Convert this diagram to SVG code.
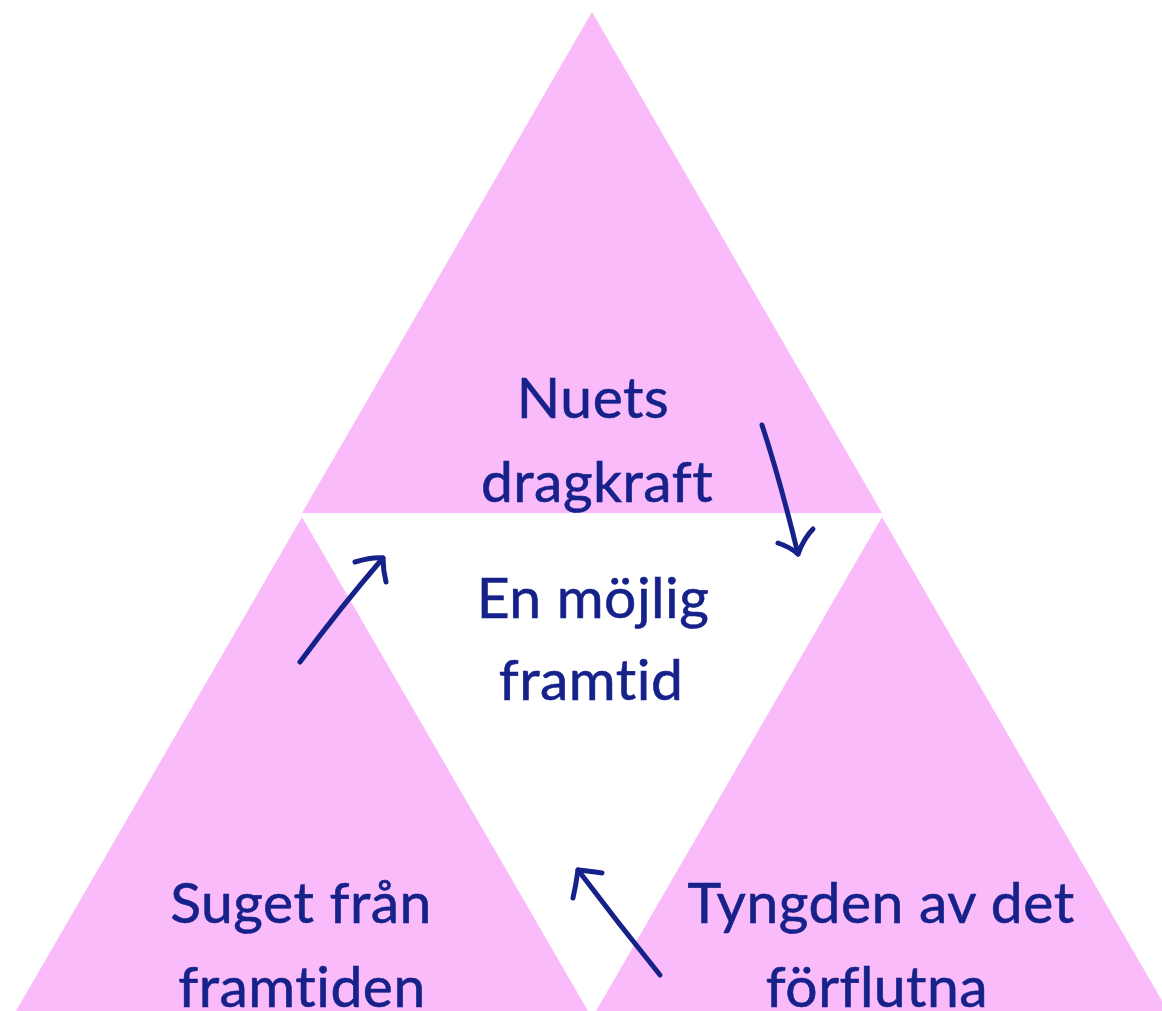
<svg xmlns="http://www.w3.org/2000/svg" width="1162" height="1011" viewBox="0 0 1162 1011">
  <style>
    .tri { fill: #F9BBF9; }
    .lbl { font-family: Lato, "Liberation Sans", sans-serif; font-size: 57px; fill: #16228A; stroke: #16228A; stroke-width: 0.6px; text-anchor: middle; font-variant-ligatures: none; font-feature-settings: "liga" 0, "clig" 0; letter-spacing: 0.5px; }
    .arr { fill: none; stroke: #16228A; stroke-width: 5; stroke-linecap: round; stroke-linejoin: round; }
  </style>
  <rect width="1162" height="1011" fill="#FFFFFF"/>
  <g id="node-top">
    <polygon class="tri" points="592,12 302,513 882,513"/>
    <text class="lbl" x="593" y="418">Nuets</text>
    <text class="lbl" x="597" y="502">dragkraft</text>
  </g>
  <g id="node-bottom-left">
    <polygon class="tri" points="302,517 16,1011 588,1011"/>
    <text class="lbl" x="301" y="923">Suget från</text>
    <text class="lbl" x="302" y="1007">framtiden</text>
  </g>
  <g id="node-bottom-right">
    <polygon class="tri" points="882,517 596,1011 1168,1011"/>
    <text class="lbl" x="881" y="923">Tyngden av det</text>
    <text class="lbl" x="877" y="1007">förflutna</text>
  </g>
  <g id="node-center">
    <text class="lbl" x="593" y="618">En möjlig</text>
    <text class="lbl" x="591" y="700">framtid</text>
  </g>
  <g id="connectors">
    <path class="arr" d="M762,425 Q780,480 798,554"/>
    <path class="arr" d="M778,543 Q790,547 798,554 Q804,538 813,529"/>
    <path class="arr" d="M300,662 Q340,608 383,558"/>
    <path class="arr" d="M355,562 Q372,557 383,558 Q383,570 386,582"/>
    <path class="arr" d="M660,975 Q618,923 578,870"/>
    <path class="arr" d="M602,873 Q588,871 578,870 Q576,885 573,898"/>
  </g>
</svg>
